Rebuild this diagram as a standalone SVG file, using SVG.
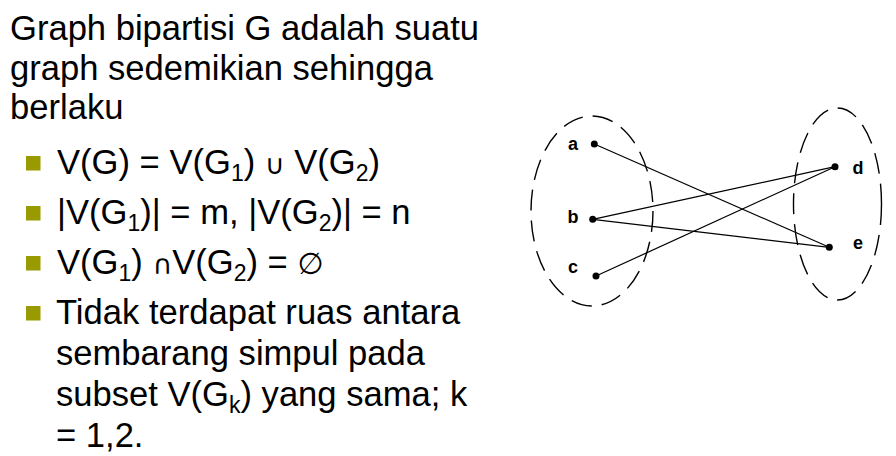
<svg xmlns="http://www.w3.org/2000/svg" width="896" height="456" viewBox="0 0 896 456">
<style>
.t{font-family:"Liberation Sans",Arial,sans-serif;font-size:34.6px;fill:#000}
.sub{font-size:23px}
.sym{font-family:"DejaVu Sans","Liberation Sans",sans-serif;font-size:27px}
.bul{fill:#999900}
.lbl{font-family:"Liberation Sans",Arial,sans-serif;font-size:18px;font-weight:bold;fill:#000;text-anchor:middle}
.ell{fill:none;stroke:#000;stroke-width:1.4;stroke-dasharray:21 10}
.edge{stroke:#000;stroke-width:1.2;fill:none}
.dot{fill:#000}
</style>
<rect width="896" height="456" fill="#fff"/>
<g id="text">
<text class="t" x="10" y="39.5">Graph bipartisi G adalah suatu</text>
<text class="t" x="10" y="79.5">graph sedemikian sehingga</text>
<text class="t" x="10" y="119">berlaku</text>
<rect class="bul" x="26" y="156" width="14.5" height="14.5"/>
<rect class="bul" x="26" y="206" width="14.5" height="14.5"/>
<rect class="bul" x="26" y="256" width="14.5" height="14.5"/>
<rect class="bul" x="26" y="306" width="14.5" height="14.5"/>
<text class="t" x="57" y="173.5">V(G) = V(G<tspan class="sub" dy="7">1</tspan><tspan dy="-7">) </tspan><tspan class="sym">∪</tspan> V(G<tspan class="sub" dy="7">2</tspan><tspan dy="-7">)</tspan></text>
<text class="t" x="57" y="223.5">|V(G<tspan class="sub" dy="7">1</tspan><tspan dy="-7">)| = m, |V(G</tspan><tspan class="sub" dy="7">2</tspan><tspan dy="-7">)| = n</tspan></text>
<text class="t" x="57" y="273.5">V(G<tspan class="sub" dy="7">1</tspan><tspan dy="-7">) </tspan><tspan class="sym">∩</tspan>V(G<tspan class="sub" dy="7">2</tspan><tspan dy="-7">) = </tspan><tspan class="sym" style="font-size:30px">∅</tspan></text>
<text class="t" x="56" y="323.5">Tidak terdapat ruas antara</text>
<text class="t" x="56" y="365">sembarang simpul pada</text>
<text class="t" x="56" y="406">subset V(G<tspan class="sub" dy="7">k</tspan><tspan dy="-7">) yang sama; k</tspan></text>
<text class="t" x="56" y="447">= 1,2.</text>
</g>
<g id="sets">
<ellipse class="ell" cx="592" cy="211" rx="61" ry="95"/>
<ellipse class="ell" cx="837.5" cy="204" rx="44" ry="96"/>
</g>
<g id="connectors">
<line class="edge" x1="594.3" y1="144" x2="829.3" y2="247.3"/>
<line class="edge" x1="592.7" y1="219.3" x2="835" y2="166.7"/>
<line class="edge" x1="592.7" y1="219.3" x2="829.3" y2="247.3"/>
<line class="edge" x1="596" y1="276" x2="835" y2="166.7"/>
</g>
<g id="node-a"><circle class="dot" cx="594.3" cy="144" r="3.5"/><text class="lbl" x="573" y="150">a</text></g>
<g id="node-b"><circle class="dot" cx="592.7" cy="219.3" r="3.5"/><text class="lbl" x="573" y="223">b</text></g>
<g id="node-c"><circle class="dot" cx="596" cy="276" r="3.5"/><text class="lbl" x="573" y="273">c</text></g>
<g id="node-d"><circle class="dot" cx="835" cy="166.7" r="3.5"/><text class="lbl" x="858" y="173.5">d</text></g>
<g id="node-e"><circle class="dot" cx="829.3" cy="247.3" r="3.5"/><text class="lbl" x="858" y="248.5">e</text></g>
</svg>
